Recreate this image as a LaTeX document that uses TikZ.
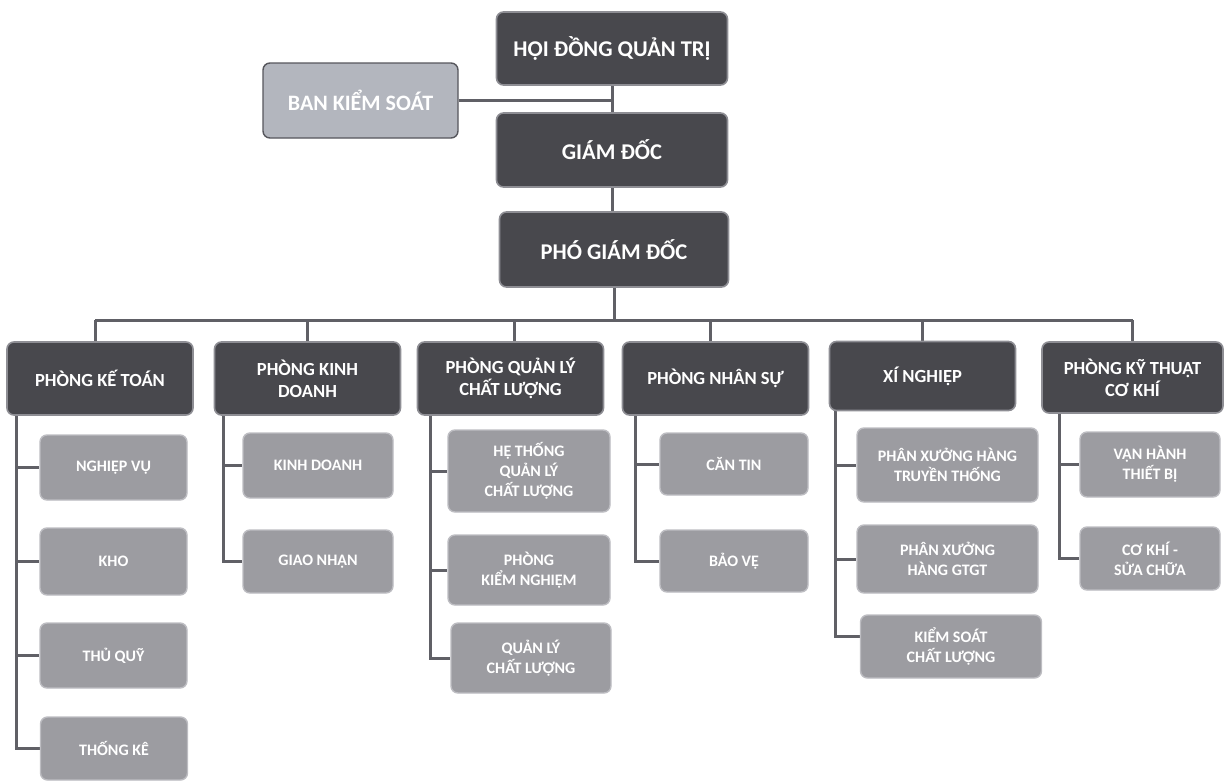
\documentclass[tikz,border=0pt]{standalone}
\usepackage{fontspec}
\setmainfont{Carlito}
\usetikzlibrary{backgrounds}
\definecolor{darkbox}{HTML}{48484D}
\definecolor{darkedge}{HTML}{8E8E94}
\definecolor{subbox}{HTML}{9C9CA1}
\definecolor{subedge}{HTML}{BDBDC2}
\definecolor{ctrlbox}{HTML}{B3B6BE}
\definecolor{ctrledge}{HTML}{56565C}
\definecolor{linkc}{HTML}{606066}
\tikzset{
  headbox/.style={rectangle, rounded corners=7pt, fill=darkbox, draw=darkedge, line width=1.6pt,
    text=white, font=\bfseries\fontsize{22.5}{26}\selectfont, align=center, inner sep=0pt},
  deptbox/.style={rectangle, rounded corners=7pt, fill=darkbox, draw=darkedge, line width=1.6pt,
    text=white, font=\bfseries\fontsize{18.5}{22}\selectfont, align=center, inner sep=0pt,
    minimum width=186pt, minimum height=73pt},
  unitbox/.style={rectangle, rounded corners=7pt, fill=subbox, draw=subedge, line width=1.4pt,
    text=white, font=\bfseries\fontsize{16}{20}\selectfont, align=center, inner sep=0pt},
  ctrlstyle/.style={rectangle, rounded corners=7pt, fill=ctrlbox, draw=ctrledge, line width=1.4pt,
    text=white, font=\bfseries\fontsize{22}{26}\selectfont, align=center, inner sep=0pt},
  link/.style={draw=linkc, line width=3pt}
}
\begin{document}
\begin{tikzpicture}[x=1pt,y=-1pt]
\useasboundingbox (0,0) rectangle (1226,782);
% top level
\node[headbox, minimum width=231pt, minimum height=73pt] (hdqt) at (612,48.5) {HỘI ĐỒNG QUẢN TRỊ};
\node[headbox, minimum width=231pt, minimum height=74pt] (gd) at (612,150) {GIÁM ĐỐC};
\node[headbox, minimum width=229pt, minimum height=75pt] (pgd) at (614,249.5) {PHÓ GIÁM ĐỐC};
\node[ctrlstyle, minimum width=195pt, minimum height=75pt] (bks) at (360.5,100.5) {BAN KIỂM SOÁT};
% departments
\node[deptbox] (kt) at (100,378.5) {PHÒNG KẾ TOÁN};
\node[deptbox] (kd) at (307.5,378.5) {PHÒNG KINH\\DOANH};
\node[deptbox] (ql) at (510.5,378.5) {PHÒNG QUẢN LÝ\\CHẤT LƯỢNG};
\node[deptbox] (ns) at (715.5,378.5) {PHÒNG NHÂN SỰ};
\node[deptbox, minimum height=69pt] (xn) at (922.5,376) {XÍ NGHIỆP};
\node[deptbox, minimum width=181pt, minimum height=71pt] (kyt) at (1132.5,377.5) {PHÒNG KỸ THUẬT\\CƠ KHÍ};
% units col 1
\node[unitbox, minimum width=147pt, minimum height=65pt] (nv) at (113.5,467.5) {NGHIỆP VỤ};
\node[unitbox, minimum width=147pt, minimum height=67pt] (kho) at (113.5,561.5) {KHO};
\node[unitbox, minimum width=147pt, minimum height=65pt] (tq) at (113.5,655.5) {THỦ QUỸ};
\node[unitbox, minimum width=147pt, minimum height=63pt] (tk) at (114,748.5) {THỐNG KÊ};
% col 2
\node[unitbox, minimum width=150pt, minimum height=65pt] (kdu) at (318,465.5) {KINH DOANH};
\node[unitbox, minimum width=150pt, minimum height=63pt] (gn) at (318,561.5) {GIAO NHẬN};
% col 3
\node[unitbox, minimum width=162pt, minimum height=82pt] (ht) at (529,471) {HỆ THỐNG\\QUẢN LÝ\\CHẤT LƯỢNG};
\node[unitbox, minimum width=162pt, minimum height=70pt] (kn) at (529,570) {PHÒNG\\KIỂM NGHIỆM};
\node[unitbox, minimum width=160pt, minimum height=70pt] (qlc) at (531,658) {QUẢN LÝ\\CHẤT LƯỢNG};
% col 4
\node[unitbox, minimum width=148pt, minimum height=62pt] (ct) at (734,464) {CĂN TIN};
\node[unitbox, minimum width=148pt, minimum height=62pt] (bv) at (734,561) {BẢO VỆ};
% col 5
\node[unitbox, minimum width=181pt, minimum height=74pt] (px1) at (947.5,465) {PHÂN XƯỞNG HÀNG\\TRUYỀN THỐNG};
\node[unitbox, minimum width=181pt, minimum height=68pt] (px2) at (947.5,559) {PHÂN XƯỞNG\\HÀNG GTGT};
\node[unitbox, minimum width=181pt, minimum height=63pt] (ks) at (951,646.5) {KIỂM SOÁT\\CHẤT LƯỢNG};
% col 6
\node[unitbox, minimum width=140pt, minimum height=65pt] (vh) at (1150,464.5) {VẬN HÀNH\\THIẾT BỊ};
\node[unitbox, minimum width=140pt, minimum height=63pt] (ck) at (1150,558.5) {CƠ KHÍ -\\SỬA CHỮA};
\begin{scope}[on background layer]
% connectors top
\coordinate (jn) at (612,100.5);
\coordinate (bus) at (612,320);
\draw[link] (hdqt.south) -- (gd.north);
\draw[link] (bks.east) -- (jn);
\draw[link] (gd.south) -- (gd.south |- pgd.north);
\draw[link] (pgd.south) -- (bus -| pgd.south);
\draw[link] ([xshift=-5pt]bus -| kt.north) -- (bus -| kyt.north);
\foreach \d/\s in {kt/-5, kd/0, ql/4, ns/-5, xn/0, kyt/0}
  \draw[link] ([xshift=\s pt]bus -| \d.north) -- ([xshift=\s pt]\d.north);
% connectors to units
\coordinate (l1) at ([xshift=10pt]kt.south west);
\draw[link] (l1) |- (tk.west);
\foreach \c in {nv,kho,tq} \draw[link] (l1 |- \c.west) -- (\c.west);
\coordinate (l2) at ([xshift=10pt]kd.south west);
\draw[link] (l2) |- (gn.west);
\draw[link] (l2 |- kdu.west) -- (kdu.west);
\coordinate (l3) at ([xshift=14pt]ql.south west);
\draw[link] (l3) |- (qlc.west);
\foreach \c in {ht,kn} \draw[link] (l3 |- \c.west) -- (\c.west);
\coordinate (l4) at ([xshift=14pt]ns.south west);
\draw[link] (l4) |- (bv.west);
\draw[link] (l4 |- ct.west) -- (ct.west);
\coordinate (l5) at ([xshift=7pt]xn.south west);
\draw[link] (l5) |- ([yshift=10pt]ks.west);
\foreach \c in {px1,px2} \draw[link] (l5 |- \c.west) -- (\c.west);
\coordinate (l6) at ([xshift=18pt]kyt.south west);
\draw[link] (l6) |- (ck.west);
\draw[link] (l6 |- vh.west) -- (vh.west);
\end{scope}
\end{tikzpicture}
\end{document}
